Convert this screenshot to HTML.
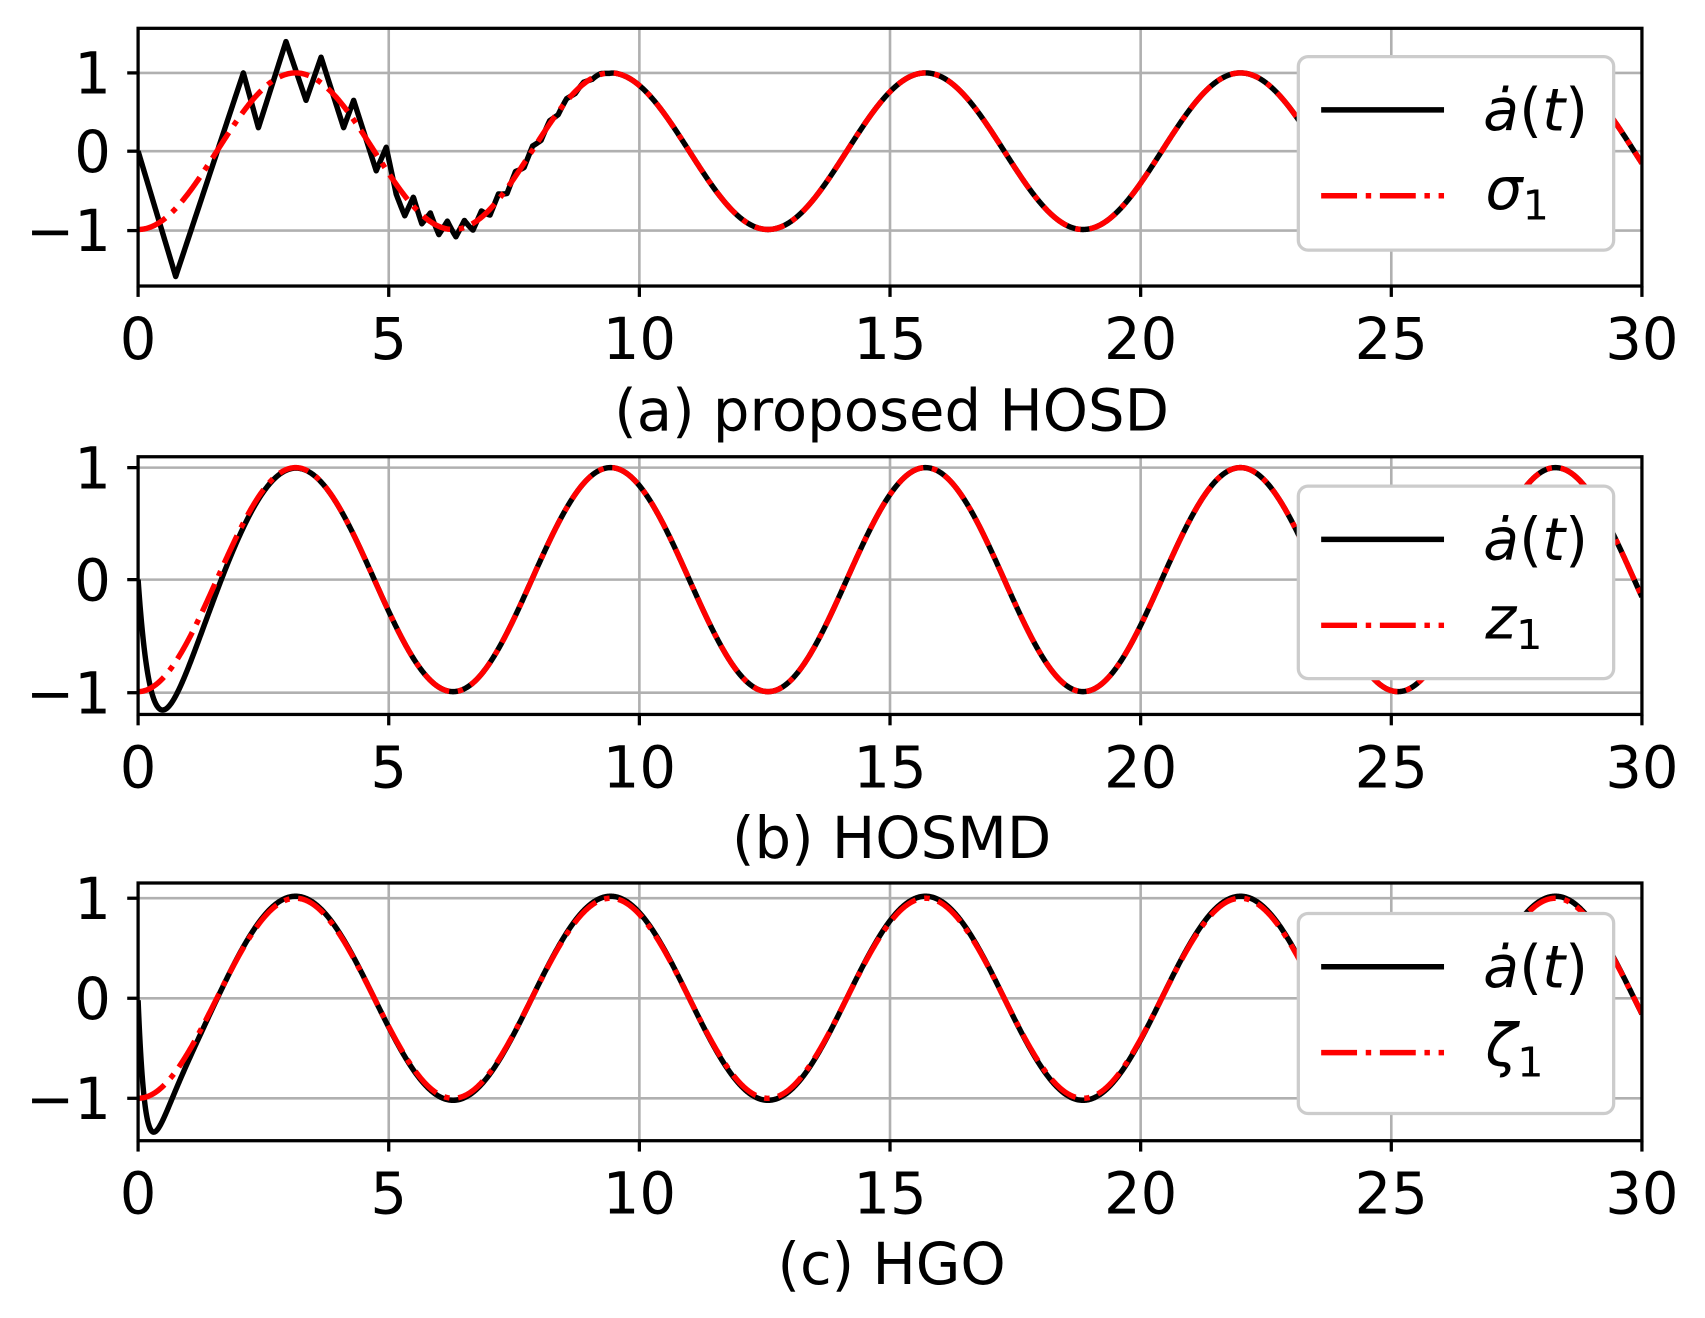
<!DOCTYPE html>
<html><head><meta charset="utf-8">
<style>
html,body{margin:0;padding:0;background:#fff;}
svg{display:block;}
text{font-family:"DejaVu Sans","Liberation Sans",sans-serif;fill:#000;}
</style></head>
<body>
<svg id="s" width="1705" height="1318" viewBox="0 0 1568 1212" xmlns="http://www.w3.org/2000/svg">
<rect width="1568" height="1212" fill="#fff"/>
</svg>
<script>
const NS="http://www.w3.org/2000/svg";
const S=document.getElementById('s');
function el(tag,attrs,parent,txt){const e=document.createElementNS(NS,tag);for(const k in attrs)e.setAttribute(k,attrs[k]);if(txt!==undefined)e.textContent=txt;(parent||S).appendChild(e);return e;}
const L=127,R=1510,X=t=>L+t*(R-L)/30;
const panels=[
 {top:26,bot:263,y1:67,y0:139,ym:212,cap:"(a) proposed HOSD",capY:396,leg:[52,230],lab:"σ",type:0},
 {top:420,bot:657,y1:430,y0:533,ym:637,cap:"(b) HOSMD",capY:789,leg:[447,624],lab:"z",type:1},
 {top:812,bot:1049,y1:826,y0:918,ym:1010,cap:"(c) HGO",capY:1181,leg:[840,1024],lab:"ζ",type:2}
];
const zz=[[0,0],[0.75,-1.6],[2.1,1.0],[2.4,0.3],[2.95,1.4],[3.35,0.65],[3.65,1.2],[4.1,0.3],[4.3,0.65],[4.75,-0.25],[4.95,0.05],[5.15,-0.55]];
function interp(t){for(let i=0;i<zz.length-1;i++){if(t>=zz[i][0]&&t<=zz[i+1][0]){const a=zz[i],b=zz[i+1];return a[1]+(b[1]-a[1])*(t-a[0])/(b[0]-a[0]);}}return 0;}
function blackA(t){
 if(t<=5.15) return interp(t);
 const base=-Math.cos(t);
 const amp=Math.max(0,0.13*(9.6-t)/4.45);
 const per=0.34;const ph=((t-5.15)/per)%1;
 const tri=ph<0.5?(1-4*ph):(-3+4*ph);
 const off=-Math.cos(5.15);
 return base+amp*tri+ (t<5.5?(-0.55-off-amp)*(5.5-t)/0.35:0);
}
panels.forEach((p,pi)=>{
 const Y=v=>p.y0-v*(p.y0-p.y1);
 const cid='c'+pi;
 const cp=el('clipPath',{id:cid});el('rect',{x:L,y:p.top,width:R-L,height:p.bot-p.top},cp);
 for(let t=5;t<30;t+=5){el('line',{x1:X(t),x2:X(t),y1:p.top,y2:p.bot,stroke:'#b0b0b0','stroke-width':2.4});}
 [p.y1,p.y0,p.ym].forEach(y=>el('line',{x1:L,x2:R,y1:y,y2:y,stroke:'#b0b0b0','stroke-width':2.4}));
 let db='',dr='';
 const N=3000;
 for(let i=0;i<=N;i++){const t=30*i/N;let b;
  if(p.type===0)b=blackA(t);
  else if(p.type===1)b=-Math.cos(t)+Math.exp(-2.5*t)*(1-4*t);
  else b=-1.02*Math.cos(t)+Math.exp(-4.5*t)*(1-8*t);
  db+=(i?'L':'M')+X(t).toFixed(2)+','+Y(b).toFixed(2);
  dr+=(i?'L':'M')+X(t).toFixed(2)+','+Y(-Math.cos(t)).toFixed(2);}
 const g=el('g',{'clip-path':'url(#'+cid+')'});
 el('path',{d:db,fill:'none',stroke:'#000','stroke-width':5,'stroke-linejoin':'round'},g);
 el('path',{d:dr,fill:'none',stroke:'#f00','stroke-width':5,'stroke-dasharray':'28,8,5,8'},g);
 el('rect',{x:L,y:p.top,width:R-L,height:p.bot-p.top,fill:'none',stroke:'#000','stroke-width':3});
 for(let t=0;t<=30;t+=5){el('line',{x1:X(t),x2:X(t),y1:p.bot,y2:p.bot+10,stroke:'#000','stroke-width':3});
  el('text',{x:X(t),y:p.bot+67,'text-anchor':'middle','font-size':53},S,String(t));}
 [[p.y1,'1'],[p.y0,'0'],[p.ym,'−1']].forEach(([y,s])=>{el('line',{x1:L-10,x2:L,y1:y,y2:y,stroke:'#000','stroke-width':3});
  el('text',{x:102,y:y+19,'text-anchor':'end','font-size':53},S,s);});
 el('text',{x:820,y:p.capY,'text-anchor':'middle','font-size':53},S,p.cap);
 const [lt,lb]=p.leg;
 el('rect',{x:1194,y:lt,width:290,height:lb-lt,rx:9,fill:'#fff',stroke:'#cccccc','stroke-width':3});
 const ly1=lt+49,ly2=lt+128;
 el('line',{x1:1215,x2:1328,y1:ly1,y2:ly1,stroke:'#000','stroke-width':5});
 el('line',{x1:1215,x2:1328,y1:ly2,y2:ly2,stroke:'#f00','stroke-width':5,'stroke-dasharray':'33,8,5,8'});
 const t1=el('text',{x:1364,y:ly1+19,'font-size':54});
 el('tspan',{'font-style':'italic'},t1,'ȧ');el('tspan',{},t1,'(');el('tspan',{'font-style':'italic'},t1,'t');el('tspan',{},t1,')');
 const t2=el('text',{x:1366,y:ly2+12,'font-size':54});
 el('tspan',{'font-style':'italic'},t2,p.lab);el('tspan',{'font-size':38,dy:10},t2,'1');
});
</script>
</body></html>
